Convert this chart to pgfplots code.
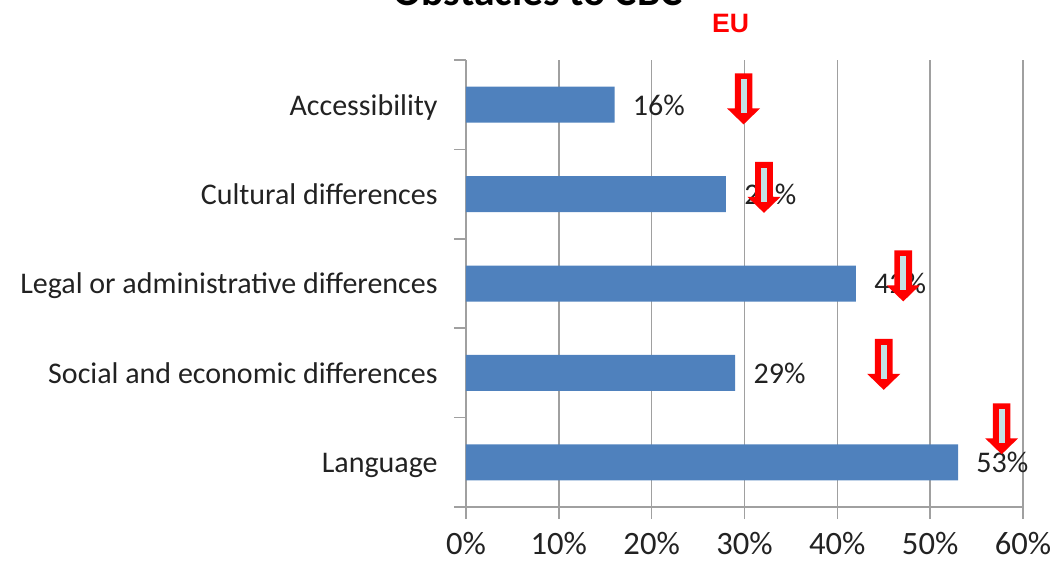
\documentclass[border=0pt]{standalone}
\usepackage{pgfplots}
\pgfplotsset{compat=1.18}
\usepackage{fontspec}
\setmainfont{Carlito}
\newfontfamily\euf{Liberation Sans}
\definecolor{barblue}{HTML}{4F81BD}
\definecolor{gridgray}{HTML}{A0A0A0}
\definecolor{txt}{HTML}{222222}
\definecolor{eufill}{RGB}{196,226,230}
\pgfdeclareplotmark{eudown}{%
  \pgfpathmoveto{\pgfqpoint{0pt}{0pt}}%
  \pgfpathlineto{\pgfqpoint{8.25pt}{8pt}}%
  \pgfpathlineto{\pgfqpoint{4.4pt}{8pt}}%
  \pgfpathlineto{\pgfqpoint{4.4pt}{25.5pt}}%
  \pgfpathlineto{\pgfqpoint{-4.4pt}{25.5pt}}%
  \pgfpathlineto{\pgfqpoint{-4.4pt}{8pt}}%
  \pgfpathlineto{\pgfqpoint{-8.25pt}{8pt}}%
  \pgfpathclose
  \pgfsetfillcolor{red}\pgfusepath{fill}%
  \pgfpathrectangle{\pgfqpoint{-1.5pt}{5.5pt}}{\pgfqpoint{3pt}{17pt}}%
  \pgfsetfillcolor{eufill}\pgfusepath{fill}%
}
\begin{document}
\begin{tikzpicture}
\begin{axis}[
  at={(0,0)}, anchor=south west,
  scale only axis, width=278.5pt, height=223.5pt,
  xmin=0, xmax=60, ymin=-0.5, ymax=4.5, y dir=reverse,
  /pgf/number format/assume math mode=true,
  xtick={0,10,...,60},
  xticklabels={0\%,10\%,20\%,30\%,40\%,50\%,60\%},
  ytick={-0.5,0.5,...,4.5}, yticklabels={},
  extra y ticks={0,1,2,3,4},
  extra y tick labels={Accessibility,Cultural differences,Legal or administrative differences,Social and economic differences,Language},
  extra y tick style={major tick length=0pt},
  xmajorgrids, grid style={draw=gridgray, line width=0.8pt},
  axis line style={draw=gridgray, line width=0.8pt},
  tick style={draw=gridgray, line width=0.8pt},
  axis x line*=bottom, axis y line*=left,
  tick align=outside, major tick length=6pt,
  x tick label style={inner sep=0pt, yshift=-6.3pt, font=\fontsize{16.3}{20}\selectfont, text=txt},
  y tick label style={inner sep=0pt, anchor=base east, xshift=-14pt, yshift=-5.2pt, font=\fontsize{15}{18}\selectfont, text=txt},
]
\addplot[xbar, bar width=18pt, fill=barblue, draw=none, point meta=x,
  nodes near coords={\pgfmathprintnumber{\pgfplotspointmeta}\%},
  every node near coord/.append style={anchor=base west, inner sep=0pt, xshift=9pt, yshift=-5.2pt, font=\fontsize{15}{18}\selectfont, text=txt}]
  coordinates {(16,0) (28,1) (42,2) (29,3) (53,4)};
\addplot[only marks, mark=eudown, forget plot]
  coordinates {(29.9,0.22) (32.1,1.21) (47.1,2.20) (45.0,3.19) (57.7,3.91)};
\end{axis}
\node[anchor=base, font=\bfseries\fontsize{20.8}{25}\selectfont, text=black] at (36pt,250.5pt) {Obstacles to CBC};
\node[anchor=base, text=red, font=\euf\bfseries\fontsize{13.3}{16}\selectfont] at (132.25pt,237.25pt) {EU};
\pgfresetboundingbox
\path[use as bounding box] (-233pt,-28pt) rectangle (293pt,253.5pt);
\end{tikzpicture}
\end{document}
